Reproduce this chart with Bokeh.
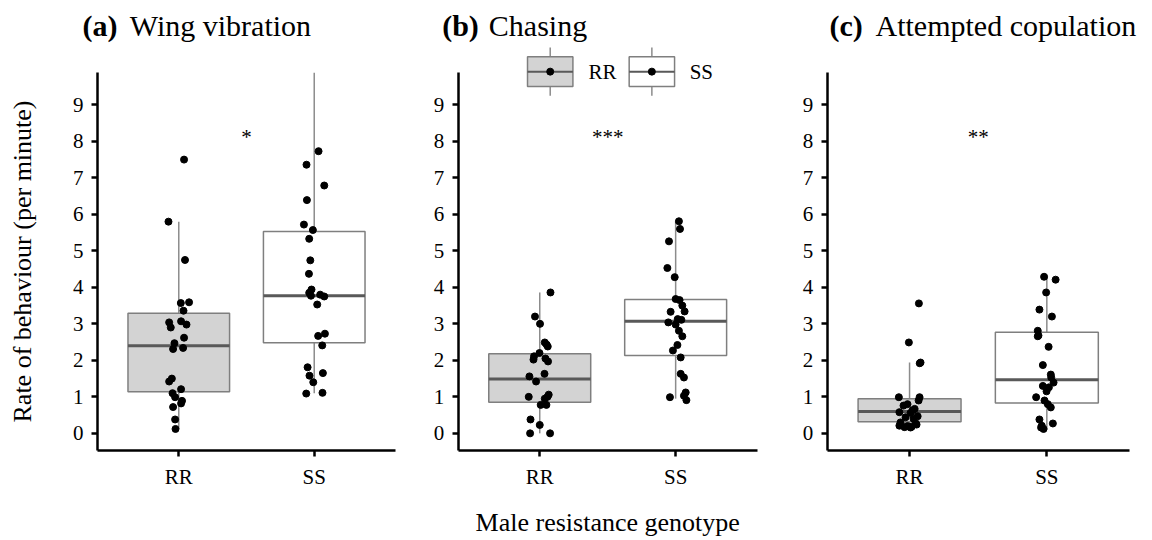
import math
from bokeh.plotting import figure
from bokeh.layouts import row
from bokeh.models import Range1d, FixedTicker
from bokeh.core.properties import value
from bokeh.embed import file_html
from bokeh.resources import INLINE

FONT = "Liberation Serif"

# ---------------- data ----------------
genotypes = ["RR", "SS"]
panel_tags = ["(a)", "(b)", "(c)"]
panel_names = ["Wing vibration", "Chasing", "Attempted copulation"]
sig_labels = ["*", "***", "**"]
sig_y = [8.15, 8.15, 8.15]
y_ticks = [0, 1, 2, 3, 4, 5, 6, 7, 8, 9]
y_label = "Rate of behaviour (per minute)"
x_label = "Male resistance genotype"

# (a) Wing vibration: observations and horizontal jitter (category units)
wing_rr = [7.50, 5.80, 4.75, 3.59, 3.57, 3.36, 3.07, 3.04, 2.98, 2.90, 2.62, 2.47,
           2.34, 2.31, 1.50, 1.42, 1.21, 1.10, 0.99, 0.89, 0.82, 0.72, 0.38, 0.12]
wing_rr_jit = [0.039, -0.076, 0.046, 0.076, 0.015, 0.035, 0.017, -0.071, 0.057, -0.059, 0.039, -0.032,
               0.032, -0.042, -0.051, -0.071, 0.017, -0.046, -0.027, 0.024, 0.017, -0.042, -0.027, -0.024]
wing_ss = [7.73, 7.36, 6.79, 6.39, 5.72, 5.57, 5.33, 4.74, 4.37, 3.94, 3.85, 3.77,
           3.80, 3.75, 3.53, 2.67, 2.73, 2.41, 1.81, 1.65, 1.58, 1.40, 1.09, 1.11]
wing_ss_jit = [0.032, -0.057, 0.074, -0.054, -0.076, -0.010, -0.037, -0.029, -0.039, -0.020, -0.037, -0.024,
               0.044, 0.074, 0.022, 0.029, 0.079, 0.059, -0.049, 0.064, -0.035, -0.007, -0.059, 0.061]
wing_lower = [0.12, 1.10]
wing_q1 = [1.14, 2.48]
wing_median = [2.40, 3.77]
wing_q3 = [3.29, 5.53]
wing_upper = [5.80, 9.88]

# (b) Chasing
chase_rr = [3.86, 3.20, 3.00, 2.49, 2.43, 2.38, 2.20, 2.11, 2.02, 2.05, 1.97, 1.63,
            1.56, 1.42, 1.06, 1.00, 1.00, 0.95, 0.78, 0.78, 0.38, 0.23, 0.00, 0.00]
chase_rr_jit = [0.079, -0.035, 0.002, 0.037, 0.051, 0.059, -0.002, -0.042, -0.046, 0.042, 0.061, 0.035,
                -0.076, -0.027, 0.066, -0.081, 0.057, 0.037, 0.007, 0.049, -0.068, 0.000, -0.071, 0.076]
chase_ss = [5.81, 5.60, 5.26, 4.53, 4.28, 3.68, 3.65, 3.50, 3.34, 3.33, 3.13, 3.11, 3.04,
            2.98, 2.81, 2.66, 2.42, 2.27, 2.08, 1.63, 1.53, 1.12, 1.03, 0.99, 0.91]
chase_ss_jit = [0.024, 0.032, -0.049, -0.061, -0.007, 0.000, 0.029, 0.049, 0.066, -0.037, 0.015, 0.042, -0.054,
                0.000, 0.024, 0.049, 0.013, -0.020, 0.037, 0.037, 0.061, 0.074, 0.061, -0.042, 0.079]
chase_lower = [0.00, 0.95]
chase_q1 = [0.85, 2.13]
chase_median = [1.49, 3.07]
chase_q3 = [2.18, 3.67]
chase_upper = [3.86, 5.80]

# (c) Attempted copulation
copul_rr = [3.56, 2.49, 1.94, 1.92, 0.99, 0.99, 0.90, 0.80, 0.76, 0.67, 0.63, 0.58,
            0.56, 0.47, 0.44, 0.40, 0.30, 0.28, 0.21, 0.20, 0.18, 0.17, 0.16, 0.24]
copul_rr_jit = [0.068, -0.005, 0.080, 0.074, -0.078, 0.073, 0.066, -0.015, -0.044, 0.037, 0.022, -0.074,
                0.007, 0.059, -0.029, 0.029, -0.066, 0.044, -0.074, -0.015, 0.015, -0.037, 0.007, 0.051]
copul_ss = [4.29, 4.21, 3.86, 3.39, 3.20, 2.81, 2.68, 2.66, 2.37, 1.87, 1.61, 1.53, 1.30,
            1.26, 1.15, 1.39, 0.99, 0.90, 0.80, 0.71, 0.38, 0.21, 0.12, 0.16, 0.27]
copul_ss_jit = [-0.020, 0.064, -0.005, -0.054, 0.037, -0.066, -0.061, -0.066, 0.013, -0.029, 0.029, 0.032, -0.029,
                0.015, -0.002, 0.049, -0.078, -0.017, 0.007, 0.029, -0.054, -0.037, -0.024, -0.042, 0.044]
copul_lower = [0.16, 0.10]
copul_q1 = [0.32, 0.83]
copul_median = [0.60, 1.47]
copul_q3 = [0.95, 2.77]
copul_upper = [1.94, 4.29]

# ---------------- style / layout ----------------
BOX_FILLS = ["#D3D3D3", "#FFFFFF"]
BOX_LINE = "#7F7F7F"
MEDIAN_LINE = "#595959"
WHISKER = "#8C8C8C"
X_AX0, X_AX1 = 0.4, 2.6            # discrete axis expansion
Y_AX0, Y_AX1 = -0.47, 9.88         # visible y-axis extent
FIG_H = 538
AXIS_BOTTOM_PX = 450               # row of the x axis
PX_PER_Y = 36.5                    # vertical pixels per unit
TITLE_MID_PX = 25                  # row of the title's middle


def style_axes(p):
    for ax in (p.xaxis[0], p.yaxis[0]):
        ax.axis_line_color = "black"
        ax.axis_line_width = 2.5
        ax.major_tick_line_color = "black"
        ax.major_tick_line_width = 2.5
        ax.major_tick_out = 6
        ax.major_tick_in = 0
        ax.minor_tick_line_color = None
        ax.major_label_text_font = FONT
        ax.major_label_text_font_size = "21px"
        ax.major_label_text_color = "black"
        ax.major_label_standoff = 8


def make_panel(i, rr, rr_jit, ss, ss_jit, lower, q1, med, q3, upper,
               fig_w, axis_left_px, axis_len_px, tag_px, name_px):
    ppu = axis_len_px / (X_AX1 - X_AX0)
    x_start = X_AX0 - axis_left_px / ppu
    x_end = X_AX0 + (fig_w - axis_left_px) / ppu
    y_end = Y_AX0 + AXIS_BOTTOM_PX / PX_PER_Y
    y_start = Y_AX0 - (FIG_H - AXIS_BOTTOM_PX) / PX_PER_Y

    def dx(px):
        return x_start + px / ppu

    def dy(py):
        return y_end - py / PX_PER_Y

    p = figure(width=fig_w, height=FIG_H,
               x_range=Range1d(x_start, x_end), y_range=Range1d(y_start, y_end),
               output_backend="svg", toolbar_location=None,
               min_border_left=0, min_border_right=0, min_border_top=0, min_border_bottom=0,
               background_fill_color="white", border_fill_color="white",
               outline_line_color=None)
    p.xgrid.visible = False
    p.ygrid.visible = False
    pos = [k + 1 for k in range(len(genotypes))]
    half = 0.75 / 2

    # whiskers
    p.segment(x0=pos, y0=q3, x1=pos, y1=upper, line_color=WHISKER, line_width=1.5)
    p.segment(x0=pos, y0=q1, x1=pos, y1=lower, line_color=WHISKER, line_width=1.5)
    # boxes
    p.vbar(x=pos, bottom=q1, top=q3, width=0.75, fill_color=BOX_FILLS,
           line_color=BOX_LINE, line_width=1.5)
    # medians
    p.segment(x0=[x - half for x in pos], y0=med, x1=[x + half for x in pos], y1=med,
              line_color=MEDIAN_LINE, line_width=3)
    # jittered observations
    p.scatter(x=[pos[0] + j for j in rr_jit], y=rr, size=7,
              fill_color="black", line_color="black")
    p.scatter(x=[pos[1] + j for j in ss_jit], y=ss, size=7,
              fill_color="black", line_color="black")
    # significance
    p.text(x=[sum(pos) / 2], y=[sig_y[i]], text=[sig_labels[i]],
           text_font=value(FONT), text_font_size="21px", y_offset=1,
           text_align="center", text_baseline="middle", text_color="black")

    # axes placed at fixed locations inside the canvas
    p.xaxis.fixed_location = Y_AX0
    p.xaxis.bounds = (X_AX0, X_AX1)
    p.xaxis.ticker = FixedTicker(ticks=pos)
    p.xaxis.major_label_overrides = {x: g for x, g in zip(pos, genotypes)}
    p.yaxis.fixed_location = X_AX0
    p.yaxis.bounds = (Y_AX0, Y_AX1)
    p.yaxis.ticker = FixedTicker(ticks=y_ticks)
    style_axes(p)

    # panel title: bold tag + plain name
    p.text(x=[dx(tag_px)], y=[dy(TITLE_MID_PX)], text=[panel_tags[i]],
           text_font=value(FONT), text_font_style="bold", text_font_size="30px",
           text_align="left", text_baseline="middle", text_color="black")
    p.text(x=[dx(name_px)], y=[dy(TITLE_MID_PX)], text=[panel_names[i]],
           text_font=value(FONT), text_font_style="normal", text_font_size="30px",
           text_align="left", text_baseline="middle", text_color="black")
    return p, dx, dy


pa, ax_, ay_ = make_panel(0, wing_rr, wing_rr_jit, wing_ss, wing_ss_jit,
                          wing_lower, wing_q1, wing_median, wing_q3, wing_upper,
                          428, 97, 298, 82, 129.3)
pb, bx_, by_ = make_panel(1, chase_rr, chase_rr_jit, chase_ss, chase_ss_jit,
                          chase_lower, chase_q1, chase_median, chase_q3, chase_upper,
                          369, 29.7, 299, 13.7, 60.3)
pc, cx_, cy_ = make_panel(2, copul_rr, copul_rr_jit, copul_ss, copul_ss_jit,
                          copul_lower, copul_q1, copul_median, copul_q3, copul_upper,
                          351, 29.7, 302, 32, 78)

# y-axis title (rotated) left of panel (a)
pa.text(x=[ax_(22)], y=[ay_(261)], text=[y_label], angle=math.pi / 2,
        text_font=value(FONT), text_font_size="26px", text_align="center",
        text_baseline="middle", text_color="black")

# x-axis title centred under panel (b)
pb.text(x=[(X_AX0 + X_AX1) / 2], y=[by_(522)], text=[x_label],
        text_font=value(FONT), text_font_size="26px", text_align="center",
        text_baseline="middle", text_color="black")

# legend inside panel (b)
leg_y = 9.91
leg_half_h = 0.41
leg_whisk = 0.25
leg_centers = [1.077, 1.825]
leg_half_w = 0.167
leg_text_x = [1.358, 2.103]
pb.segment(x0=leg_centers, y0=[leg_y + leg_half_h] * 2, x1=leg_centers,
           y1=[leg_y + leg_half_h + leg_whisk] * 2, line_color=WHISKER, line_width=1.5)
pb.segment(x0=leg_centers, y0=[leg_y - leg_half_h] * 2, x1=leg_centers,
           y1=[leg_y - leg_half_h - leg_whisk] * 2, line_color=WHISKER, line_width=1.5)
pb.vbar(x=leg_centers, bottom=[leg_y - leg_half_h] * 2, top=[leg_y + leg_half_h] * 2,
        width=2 * leg_half_w, fill_color=BOX_FILLS, line_color=BOX_LINE, line_width=1.5)
pb.segment(x0=[c - leg_half_w for c in leg_centers], y0=[leg_y] * 2,
           x1=[c + leg_half_w for c in leg_centers], y1=[leg_y] * 2,
           line_color=MEDIAN_LINE, line_width=2)
pb.scatter(x=leg_centers, y=[leg_y] * 2, size=7, fill_color="black", line_color="black")
pb.text(x=leg_text_x, y=[leg_y] * 2, text=genotypes, text_font=value(FONT),
        text_font_size="21px", text_align="left", text_baseline="middle", text_color="black")

layout = row(pa, pb, pc)
open("out.html", "w").write(file_html(layout, INLINE))
